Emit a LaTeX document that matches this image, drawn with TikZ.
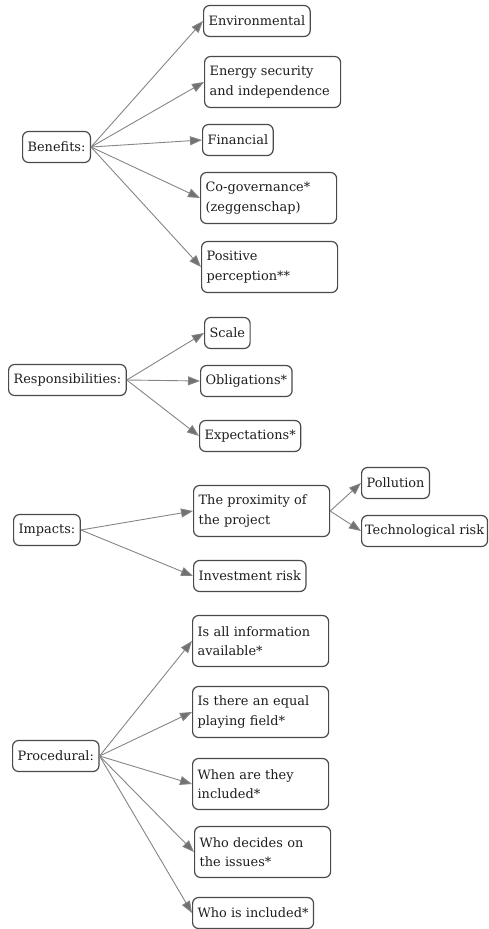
\documentclass[tikz,border=0pt]{standalone}
\usepackage{fontspec}
\setmainfont{DejaVu Serif}
\usetikzlibrary{arrows.meta}
\definecolor{bordc}{HTML}{4A4A4A}
\definecolor{edgec}{HTML}{858585}
\definecolor{textc}{HTML}{1E1E1E}
\tikzset{
  box/.style={draw=bordc, line width=1.2pt, rounded corners=6pt, fill=white,
    text=textc, font=\fontsize{12.9}{19.5}\selectfont, align=left,
    inner xsep=5pt, inner ysep=0pt, anchor=west},
  one/.style={minimum height=31pt},
  two/.style={minimum height=51pt, text width=126pt},
  conn/.style={draw=edgec, line width=0.9pt, -{Triangle[length=12pt,width=9pt,fill=edgec!85!black]}}
}
\begin{document}
\begin{tikzpicture}[x=1pt,y=-1pt]
\useasboundingbox (0,0) rectangle (489,929);
% Benefits
\node[box,one] (ben) at (22,147) {Benefits:};
\node[box,one] (env) at (203,21) {Environmental};
\node[box,two] (ene) at (204,82) {Energy security\\and independence};
\node[box,one] (fin) at (202,140) {Financial};
\node[box,two] (cog) at (200,198) {Co-governance*\\(zeggenschap)};
\node[box,two] (pos) at (201,267) {Positive\\perception**};
\foreach \t in {env,ene,fin,cog,pos} \draw[conn] (ben.east) -- (\t.west);
% Responsibilities
\node[box,one] (res) at (8,380) {Responsibilities:};
\node[box,one] (sca) at (204,333) {Scale};
\node[box,one] (obl) at (200,381) {Obligations*};
\node[box,one] (exp) at (199,436) {Expectations*};
\foreach \t in {sca,obl,exp} \draw[conn] (res.east) -- (\t.west);
% Impacts
\node[box,one] (imp) at (13,530) {Impacts:};
\node[box,two] (pro) at (193,511) {The proximity of\\the project};
\node[box,one] (pol) at (361,483) {Pollution};
\node[box,one,inner xsep=3.5pt] (tec) at (361,531) {Technological risk};
\node[box,one] (inv) at (193,576) {Investment risk};
\foreach \t in {pro,inv} \draw[conn] (imp.east) -- (\t.west);
\foreach \t in {pol,tec} \draw[conn] (pro.east) -- (\t.west);
% Procedural
\node[box,one] (prc) at (12,756) {Procedural:};
\node[box,two] (all) at (192,641) {Is all information\\available*};
\node[box,two] (equ) at (192,712) {Is there an equal\\playing field*};
\node[box,two] (whn) at (192,784) {When are they\\included*};
\node[box,two] (dec) at (194,852) {Who decides on\\the issues*};
\node[box,one] (who) at (192,913) {Who is included*};
\foreach \t in {all,equ,whn,dec,who} \draw[conn] (prc.east) -- (\t.west);
\end{tikzpicture}
\end{document}
